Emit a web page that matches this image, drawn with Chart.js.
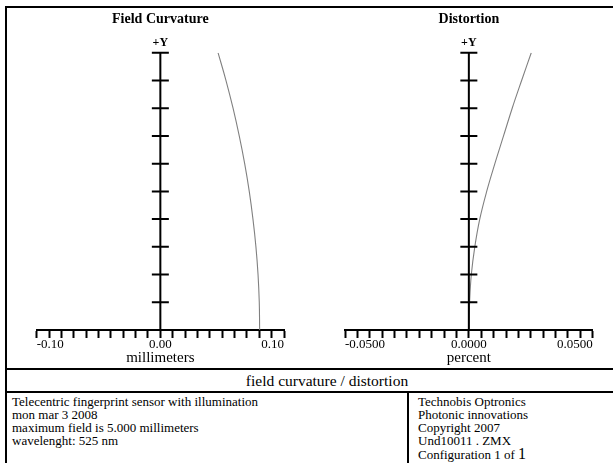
<!DOCTYPE html>
<html>
<head>
<meta charset="utf-8">
<script src="https://cdn.jsdelivr.net/npm/chart.js@4.4.0/dist/chart.umd.min.js"></script>
<style>
body { margin: 0; background: #fff; }
#page { position: relative; width: 613px; height: 463px; overflow: hidden; background: #fff; font-family: "Liberation Serif", "Times New Roman", serif; color: #000; }
.ln { position: absolute; background: #000; }
canvas { position: absolute; }
.txt { position: absolute; font-size: 13px; line-height: 13.1px; white-space: nowrap; }
#caption { position: absolute; left: 5px; width: 644px; top: 370px; height: 21px; line-height: 21px; text-align: center; font-size: 15.5px; }
</style>
</head>
<body>
<div id="page">
  <canvas id="fieldChart" style="left:7px;top:8px" width="300" height="360"></canvas>
  <canvas id="distChart" style="left:307px;top:8px" width="306" height="360"></canvas>

  <div class="ln" style="left:5px;top:6px;width:700px;height:2px"></div>
  <div class="ln" style="left:5px;top:6px;width:2px;height:470px"></div>
  <div class="ln" style="left:5px;top:368px;width:700px;height:2px"></div>
  <div class="ln" style="left:5px;top:391px;width:700px;height:2px"></div>
  <div class="ln" style="left:407px;top:391px;width:2px;height:80px"></div>

  <div id="caption">field curvature / distortion</div>
  <div class="txt" style="left:12px;top:395px">
    Telecentric fingerprint sensor with illumination<br>
    mon mar 3 2008<br>
    maximum field is 5.000 millimeters<br>
    wavelenght: 525 nm
  </div>
  <div class="txt" style="left:418px;top:395px">
    Technobis Optronics<br>
    Photonic innovations<br>
    Copyright 2007<br>
    Und10011 . ZMX<br>
    Configuration 1 of <span style="font-size:16px">1</span>
  </div>
</div>

<script>
// relative field (+Y), 0 .. 1
var fieldY = [0, 0.1, 0.2, 0.3, 0.4, 0.5, 0.6, 0.7, 0.8, 0.9, 1.0];
// field curvature in millimeters
var fieldCurve = [0.0803, 0.0800, 0.0790, 0.0773, 0.0749, 0.0719, 0.0682, 0.0638, 0.0588, 0.0531, 0.0467];
// distortion in percent
var distCurve = [0, 0.0003, 0.0010, 0.0024, 0.0044, 0.0072, 0.0105, 0.0140, 0.0175, 0.0213, 0.0252];

var yTicks = [0, 0.1, 0.2, 0.3, 0.4, 0.5, 0.6, 0.7, 0.8, 0.9, 1.0];
var fieldTickLabels = ['-0.10', '0.00', '0.10'];
var distTickLabels = ['-0.0500', '0.0000', '0.0500'];

var serif = '"Liberation Serif", "Times New Roman", serif';

// y axis of zemax plots: vertical line at x = 0 with ticks crossing it
var yAxisPlugin = {
    id: 'zemaxYAxis',
    afterDatasetsDraw: function (chart) {
        var ctx = chart.ctx;
        var x = chart.scales.x, y = chart.scales.y;
        var x0 = x.getPixelForValue(0);
        ctx.save();
        ctx.strokeStyle = '#000';
        ctx.lineWidth = 2;
        ctx.beginPath();
        ctx.moveTo(x0, y.getPixelForValue(0));
        ctx.lineTo(x0, y.getPixelForValue(1));
        yTicks.forEach(function (v) {
            if (v === 0) return;
            var py = y.getPixelForValue(v);
            ctx.moveTo(x0 - 8.5, py);
            ctx.lineTo(x0 + 8.5, py);
        });
        ctx.stroke();
        ctx.fillStyle = '#000';
        ctx.font = 'bold 12px ' + serif;
        ctx.textAlign = 'center';
        ctx.textBaseline = 'middle';
        ctx.fillText('+Y', x0, y.getPixelForValue(1) - 10);
        ctx.restore();
    }
};

function makeChart(id, values, xMax, labels, title, unit, padLeft, padRight) {
    var pts = [];
    for (var i = 0; i < fieldY.length; i++) {
        pts.push({x: values[i], y: fieldY[i]});
    }
    var step = xMax / 10;
    return new Chart(document.getElementById(id), {
        type: 'scatter',
        data: {
            datasets: [{
                data: pts,
                showLine: true,
                borderColor: '#808080',
                borderWidth: 1.1,
                pointRadius: 0,
                tension: 0.4
            }]
        },
        options: {
            responsive: false,
            animation: false,
            layout: {padding: {left: padLeft, right: padRight, top: 0, bottom: 2}},
            plugins: {
                legend: {display: false},
                tooltip: {enabled: false},
                title: {
                    display: true,
                    text: title,
                    color: '#000',
                    font: {family: serif, size: 14, weight: 'bold', lineHeight: 1.2},
                    padding: {top: 3, bottom: 25}
                }
            },
            scales: {
                x: {
                    type: 'linear',
                    min: -xMax,
                    max: xMax,
                    border: {color: '#000', width: 2},
                    grid: {drawOnChartArea: false, tickLength: 8, tickWidth: 2, color: '#000'},
                    ticks: {
                        stepSize: step,
                        autoSkip: false,
                        maxRotation: 0,
                        align: 'inner',
                        padding: 0,
                        color: '#000',
                        font: {family: serif, size: 13, lineHeight: 1},
                        callback: function (v) {
                            var k = Math.round(v / step);
                            if (k === -10) return labels[0];
                            if (k === 0) return labels[1];
                            if (k === 10) return labels[2];
                            return '';
                        }
                    },
                    title: {
                        display: true,
                        text: unit,
                        color: '#000',
                        font: {family: serif, size: 15, lineHeight: 1},
                        padding: {top: 0, bottom: 0}
                    }
                },
                y: {
                    type: 'linear',
                    min: 0,
                    max: 1,
                    display: false
                }
            }
        },
        plugins: [yAxisPlugin]
    });
}

makeChart('fieldChart', fieldCurve, 0.1, fieldTickLabels, 'Field Curvature', 'millimeters', 29.7, 23);
makeChart('distChart', distCurve, 0.05, distTickLabels, 'Distortion', 'percent', 38, 20.3);
</script>
</body>
</html>
